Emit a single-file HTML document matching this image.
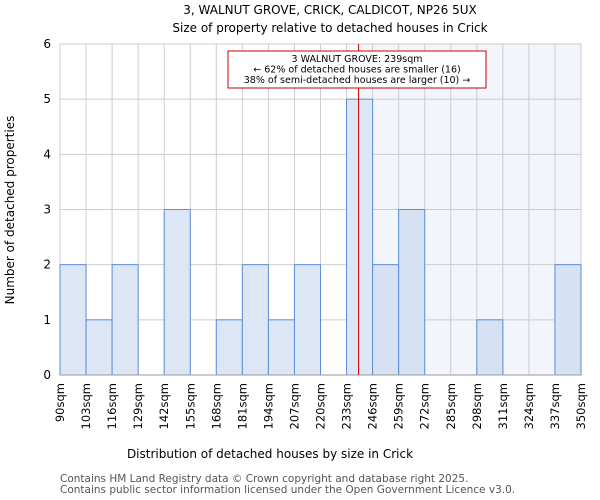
<!DOCTYPE html>
<html><head><meta charset="utf-8"><style>
body{margin:0;background:#fff}
svg{display:block;font-family:"DejaVu Sans","Liberation Sans",sans-serif}
</style></head><body>
<svg id="c" width="600" height="500">
<text x="330" y="14" text-anchor="middle" font-size="12">3, WALNUT GROVE, CRICK, CALDICOT, NP26 5UX</text>
<text x="330" y="32" text-anchor="middle" font-size="12">Size of property relative to detached houses in Crick</text>
<text x="270" y="458" text-anchor="middle" font-size="12">Distribution of detached houses by size in Crick</text>
<text transform="translate(14,210) rotate(-90)" text-anchor="middle" font-size="12">Number of detached properties</text>
<text x="60" y="482" font-size="10.5" fill="#555">Contains HM Land Registry data © Crown copyright and database right 2025.</text>
<text x="60" y="493" font-size="10.5" fill="#555">Contains public sector information licensed under the Open Government Licence v3.0.</text>
</svg>
<script>
const binEdges=[90,103,116,129,142,155,168,181,194,207,220,233,246,259,272,285,298,311,324,337,350];
const counts=[2,1,2,0,3,0,1,2,1,2,0,5,2,3,0,0,1,0,0,2];
const yTicks=[0,1,2,3,4,5,6];
const subjectSize=239;
const NS="http://www.w3.org/2000/svg";
const svg=document.getElementById('c');
const L=60,R=581,T=44,B=375;
const xs=v=>L+(v-90)/(350-90)*(R-L);
const ys=v=>B-v/6*(B-T);
function el(t,a,p){const e=document.createElementNS(NS,t);for(const k in a)e.setAttribute(k,a[k]);(p||svg).appendChild(e);return e;}
const shade=el('rect',{x:xs(subjectSize),y:T,width:R-xs(subjectSize),height:B-T,fill:'#f2f5fc'});


binEdges.forEach(v=>{const g=el('line',{x1:xs(v),x2:xs(v),y1:T,y2:B,stroke:'#cccccc','stroke-width':1});

});
yTicks.forEach(v=>{const g=el('line',{x1:L,x2:R,y1:ys(v),y2:ys(v),stroke:'#cccccc','stroke-width':1});


const t=el('text',{x:L-9,y:ys(v)+4,'text-anchor':'end','font-size':12});t.textContent=v;

});
counts.forEach((c,i)=>{if(!c)return;const x0=xs(binEdges[i]),x1=xs(binEdges[i+1]);
const r=el('rect',{x:x0,y:ys(c),width:x1-x0,height:ys(0)-ys(c),fill:binEdges[i]>=subjectSize?'#d6e1f3':'#dce6f4',stroke:'#5b8fd6','stroke-width':1});

});
const ax=el('line',{x1:L,x2:R,y1:B,y2:B,stroke:'#999','stroke-width':1});


binEdges.forEach(v=>{const t=el('text',{transform:`translate(${xs(v)+4},383) rotate(-90)`,'text-anchor':'end','font-size':11.5});t.textContent=v+'sqm';

});
const ml=el('line',{x1:xs(subjectSize),x2:xs(subjectSize),y1:T,y2:B,stroke:'#cc0000','stroke-width':1});


const box=el('rect',{x:228,y:51,width:258,height:37,fill:'#fff',stroke:'#cc0000','stroke-width':1});


['3 WALNUT GROVE: 239sqm','← 62% of detached houses are smaller (16)','38% of semi-detached houses are larger (10) →'].forEach((s,i)=>{
const t=el('text',{x:357,y:62+i*10.5,'text-anchor':'middle','font-size':9.5});t.textContent=s;

});
</script>
</body></html>
